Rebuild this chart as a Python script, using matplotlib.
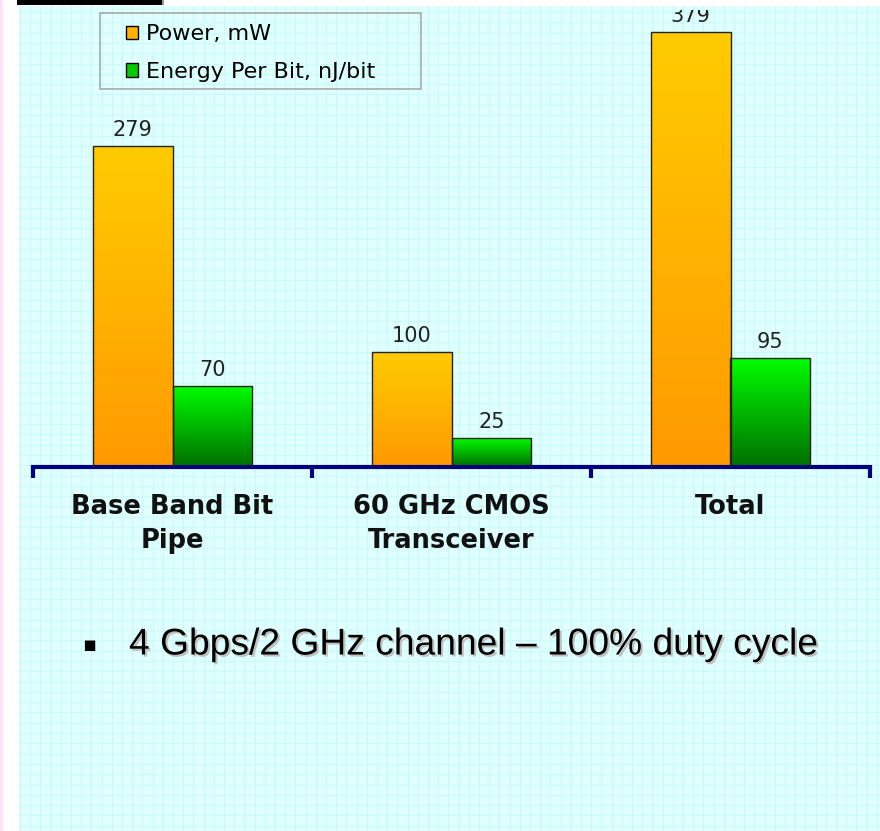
import matplotlib
matplotlib.use('Agg')
import matplotlib.pyplot as plt
import matplotlib.patheffects as pe
from matplotlib.patches import Patch, Rectangle
from matplotlib.colors import LinearSegmentedColormap
import numpy as np

categories = ['Base Band Bit\nPipe', '60 GHz CMOS\nTransceiver', 'Total']
power_mw = [279, 100, 379]
energy_nj = [70, 25, 95]
series_names = ['Power, mW', 'Energy Per Bit, nJ/bit']
note = '4 Gbps/2 GHz channel \u2013 100% duty cycle'

W, H = 880, 831
fig = plt.figure(figsize=(W / 100, H / 100), dpi=100)
fig.patch.set_facecolor('white')

# slide background: light cyan with grid
bg = fig.add_axes([19 / W, 0, 1 - 19 / W, (H - 6) / H], zorder=0)
bg.set_xlim(19, W)
bg.set_ylim(H, 6)
bg.set_facecolor('#e0ffff')
for gx in np.arange(20, W, 10.2):
    bg.axvline(gx, color='#c8fafa', lw=0.8)
for gy in np.arange(12, H, 10.3):
    bg.axhline(gy, color='#c8fafa', lw=0.8)
for s in bg.spines.values():
    s.set_visible(False)
bg.set_xticks([])
bg.set_yticks([])

# left pink strip and top-left black tab
fig.patches.append(Rectangle((0, 0), 2 / W, 1, transform=fig.transFigure, color='#ffe0ff', zorder=1))
fig.patches.append(Rectangle((17 / W, (H - 5) / H), 146 / W, 5 / H, transform=fig.transFigure,
                             facecolor='black', edgecolor='none', zorder=1))
fig.patches.append(Rectangle((162 / W, (H - 5) / H), 2 / W, 5 / H, transform=fig.transFigure,
                             facecolor='#999999', edgecolor='none', zorder=1))

ax = fig.add_axes([33 / W, (H - 466.5) / H, 837 / W, 456.5 / H], zorder=2)
ax.patch.set_visible(False)
ax.set_xlim(-0.5, 2.5)
ax.set_ylim(0, 398)

x = np.arange(len(categories))
bw = 0.286
orange_bars = ax.bar(x - bw / 2, power_mw, bw, facecolor='none', edgecolor='#222222', lw=1, zorder=3)
green_bars = ax.bar(x + bw / 2, energy_nj, bw, facecolor='none', edgecolor='#222222', lw=1, zorder=3)

cm_orange = LinearSegmentedColormap.from_list('o', ['#ff9900', '#ffcc00'])
cm_green = LinearSegmentedColormap.from_list('g', ['#007000', '#00ff00'])
grad = np.linspace(0, 1, 256).reshape(-1, 1)
for bars, cmap in [(orange_bars, cm_orange), (green_bars, cm_green)]:
    for b in bars:
        x0, y0 = b.get_x(), b.get_y()
        im = ax.imshow(grad, cmap=cmap, origin='lower', aspect='auto',
                       extent=[x0, x0 + b.get_width(), y0, y0 + b.get_height()], zorder=2)
        im.set_clip_path(b)

for bars, vals in [(orange_bars, power_mw), (green_bars, energy_nj)]:
    for b, v in zip(bars, vals):
        t = ax.annotate(str(v), (b.get_x() + b.get_width() / 2, b.get_height()),
                        xytext=(0, 6), textcoords='offset pixels', ha='center', va='bottom',
                        fontsize=15, color='#222222', family='DejaVu Sans')
        t.set_clip_on(True)
        t.set_clip_box(ax.bbox)

ax.set_xlim(-0.5, 2.5)
ax.set_ylim(0, 398)

for side in ['left', 'right', 'top']:
    ax.spines[side].set_visible(False)
ax.spines['bottom'].set_color('#000080')
ax.spines['bottom'].set_linewidth(3)
ax.set_yticks([])
ax.set_xticks([-0.5, 0.5, 1.5, 2.5])
ax.set_xticklabels([])
ax.tick_params(axis='x', direction='out', length=8, width=3, color='#000080')

for xi, lab in zip(x, categories):
    ax.text(xi, -28 / 456.5, lab, transform=ax.get_xaxis_transform(), ha='center', va='top',
            fontsize=18.5, fontweight='bold', linespacing=1.4, color='#111111',
            family='DejaVu Sans')

# legend: frame drawn separately so the inner padding can match
fig.patches.append(Rectangle((100 / W, 1 - 89 / H), 321 / W, 76 / H, transform=fig.transFigure,
                             facecolor='none', edgecolor='#a8a8a8', lw=1.2, zorder=5))
handles = [Patch(facecolor='#ffb000', edgecolor='black', lw=1),
           Patch(facecolor='#00cc00', edgecolor='black', lw=1)]
leg = fig.legend(handles, series_names, loc='upper left', bbox_to_anchor=(126 / W, 1 - 24 / H),
                 prop={'family': 'DejaVu Sans', 'size': 16}, frameon=False,
                 handlelength=0.54, handleheight=0.54, handletextpad=0.36, labelspacing=0.8,
                 borderpad=0, borderaxespad=0)
leg.set_zorder(5)

fig.text(89 / W, 1 - 645 / H, '\u25aa', fontsize=15, ha='center', va='center', family='DejaVu Sans')
fig.text(129 / W, 1 - 645 / H, note, fontsize=26.8, ha='left', va='center',
         family='Liberation Sans', color='black',
         path_effects=[pe.withSimplePatchShadow(offset=(1.5, -1.5), shadow_rgbFace='#c0c0c0', alpha=1)])

fig.savefig('out.png', dpi=100, facecolor=fig.get_facecolor())
